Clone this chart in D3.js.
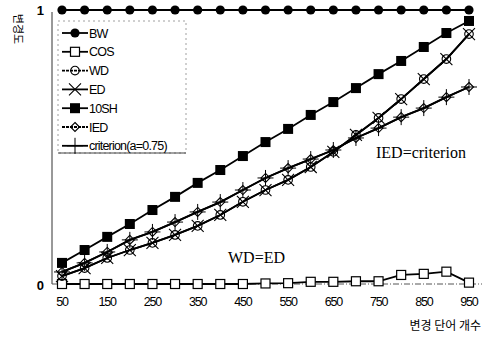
<!DOCTYPE html>
<html>
<head>
<meta charset="utf-8">
<script src="https://cdn.jsdelivr.net/npm/d3@7"></script>
<style>
  body { margin: 0; background: white; }
  svg { display: block; }
</style>
</head>
<body>
<svg width="489" height="337"></svg>
<script>
const words = [50, 100, 150, 200, 250, 300, 350, 400, 450, 500,
  550, 600, 650, 700, 750, 800, 850, 900, 950]
const xTicks = [50, 150, 250, 350, 450, 550, 650, 750, 850, 950]

const bw = words.map(() => 1)
const cos = [0, 0, 0, 0, 0, 0, 0, 0, 0, 0.002,
  0.003, 0.008, 0.008, 0.01, 0.01, 0.033, 0.037, 0.045, 0.005]
const ed = [0.029, 0.058, 0.095, 0.124, 0.15, 0.179, 0.212, 0.252, 0.3, 0.343,
  0.38, 0.427, 0.482, 0.544, 0.606, 0.675, 0.748, 0.821, 0.912]
const wd = ed.slice()
const sh10 = [0.077, 0.124, 0.172, 0.219, 0.27, 0.318, 0.369, 0.416, 0.467, 0.518,
  0.566, 0.617, 0.664, 0.715, 0.766, 0.814, 0.865, 0.916, 0.96]
const ied = [0.044, 0.077, 0.117, 0.161, 0.19, 0.226, 0.263, 0.299, 0.343, 0.387,
  0.423, 0.456, 0.489, 0.533, 0.569, 0.609, 0.642, 0.682, 0.719]
const criterion = ied.slice()

const svg = d3.select('svg')
const x = d3.scaleLinear().domain([50, 950]).range([62, 469])
const y = d3.scaleLinear().domain([0, 1]).range([284, 10])

// marker painters
const draw = {
  dot(g) { g.append('circle').attr('r', 4.6).attr('fill', 'black') },
  sqOpen(g) {
    g.append('rect').attr('x', -4.5).attr('y', -4.5).attr('width', 9).attr('height', 9)
      .attr('fill', 'white').attr('stroke', 'black').attr('stroke-width', 1.2)
  },
  circOpen(g) {
    g.append('circle').attr('r', 4.3).attr('fill', 'none')
      .attr('stroke', 'black').attr('stroke-width', 1.1)
  },
  cross(g) {
    g.append('path').attr('d', 'M-6,-6L6,6M-6,6L6,-6')
      .attr('stroke', 'black').attr('stroke-width', 1.1)
  },
  sqFill(g) {
    g.append('rect').attr('x', -5).attr('y', -5).attr('width', 10).attr('height', 10)
      .attr('fill', 'black')
  },
  diamond(g) {
    g.append('path').attr('d', 'M0,-4.5L4.5,0L0,4.5L-4.5,0Z').attr('fill', 'none')
      .attr('stroke', 'black').attr('stroke-width', 1.1)
  },
  plus(g) {
    g.append('path').attr('d', 'M0,-8V8M-8,0H8')
      .attr('stroke', 'black').attr('stroke-width', 1)
  }
}

const series = [
  { name: 'BW', values: bw, marker: 'dot', legendLine: '' },
  { name: 'COS', values: cos, marker: 'sqOpen', legendLine: '' },
  { name: 'WD', values: wd, marker: 'circOpen', legendLine: '3,1' },
  { name: 'ED', values: ed, marker: 'cross', legendLine: '' },
  { name: '10SH', values: sh10, marker: 'sqFill', legendLine: '' },
  { name: 'IED', values: ied, marker: 'diamond', legendLine: '3,1' },
  { name: 'criterion(a=0.75)', values: criterion, marker: 'plus', legendLine: '' }
]

// y axis line
svg.append('line').attr('x1', 52).attr('x2', 52).attr('y1', y(1) + 2).attr('y2', y(0))
  .attr('stroke', '#333').attr('stroke-width', 1)

// zero reference, dash-dot
svg.append('line').attr('x1', 52).attr('x2', 482).attr('y1', y(0)).attr('y2', y(0))
  .attr('stroke', '#555').attr('stroke-width', 1).attr('stroke-dasharray', '6,2,1,2')

const font = '"Liberation Sans", Arial, sans-serif'
const kfont = '"Noto Sans CJK KR", sans-serif'

svg.append('text').attr('x', 44).attr('y', y(1) + 5).attr('text-anchor', 'end')
  .attr('font-family', font).attr('font-size', 13).attr('font-weight', 'bold').text('1')
svg.append('text').attr('x', 44).attr('y', y(0) + 6).attr('text-anchor', 'end')
  .attr('font-family', font).attr('font-size', 13).attr('font-weight', 'bold').text('0')

// x tick labels
svg.append('g').selectAll('text').data(xTicks).join('text')
  .attr('x', d => x(d)).attr('y', 306)
  .attr('text-anchor', 'middle')
  .attr('font-family', font).attr('font-size', 12.5)
  .attr('letter-spacing', -1.2)
  .text(d => d)

// axis titles
svg.append('text').attr('transform', 'translate(14,29) rotate(90)')
  .attr('font-family', kfont).attr('font-size', 11).attr('text-anchor', 'middle')
  .text('변경도')
svg.append('text').attr('x', 481).attr('y', 330).attr('text-anchor', 'end')
  .attr('font-family', kfont).attr('font-size', 12)
  .text('변경 단어 개수')

// lines
const line = d3.line().x((d, i) => x(words[i])).y(d => y(d))
series.forEach(s => {
  svg.append('path').datum(s.values).attr('d', line)
    .attr('fill', 'none').attr('stroke', 'black').attr('stroke-width', 1.8)
})
series.forEach(s => {
  const g = svg.append('g')
  s.values.forEach((v, i) => {
    const m = g.append('g').attr('transform', `translate(${x(words[i])},${y(v)})`)
    draw[s.marker](m)
  })
})

// annotations
svg.append('text').attr('x', 376).attr('y', 158)
  .attr('font-family', '"Liberation Serif", "Times New Roman", serif').attr('font-size', 16)
  .text('IED=criterion')
svg.append('text').attr('x', 228).attr('y', 263)
  .attr('font-family', '"Liberation Serif", "Times New Roman", serif').attr('font-size', 16)
  .text('WD=ED')

// legend
const lg = svg.append('g')
lg.append('rect').attr('x', 58).attr('y', 21).attr('width', 128).attr('height', 132)
  .attr('fill', 'white').attr('stroke', '#888').attr('stroke-width', 0.8)
  .attr('stroke-dasharray', '2,3')
lg.append('line').attr('x1', 58).attr('x2', 186).attr('y1', 153).attr('y2', 153)
  .attr('stroke', '#444').attr('stroke-width', 1)
series.forEach((s, i) => {
  const ly = 33 + i * 18.8
  lg.append('line').attr('x1', 62).attr('x2', 88).attr('y1', ly).attr('y2', ly)
    .attr('stroke', 'black').attr('stroke-width', 1.8)
    .attr('stroke-dasharray', s.legendLine || null)
  const m = lg.append('g').attr('transform', `translate(75,${ly})`)
  draw[s.marker](m)
  lg.append('text').attr('x', 89).attr('y', ly + 4.5)
    .attr('font-family', font).attr('font-size', 12.5).attr('letter-spacing', -0.8)
    .text(s.name)
})
</script>
</body>
</html>
